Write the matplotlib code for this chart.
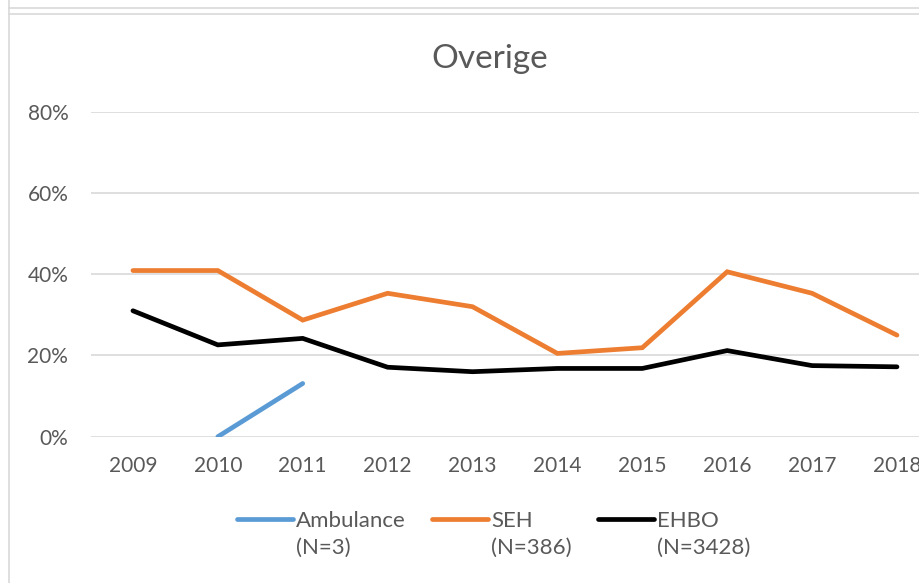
import matplotlib
matplotlib.use("Agg")
import matplotlib.pyplot as plt
from matplotlib.lines import Line2D
from matplotlib.ticker import PercentFormatter

years = [2009, 2010, 2011, 2012, 2013, 2014, 2015, 2016, 2017, 2018]
ambulance = [None, 0.0, 13.1, None, None, None, None, None, None, None]
seh = [40.9, 40.9, 28.7, 35.3, 32.0, 20.5, 21.9, 40.6, 35.3, 25.0]
ehbo = [31.0, 22.6, 24.2, 17.1, 16.0, 16.8, 16.8, 21.2, 17.5, 17.2]
labels = ["Ambulance\n(N=3)", "SEH\n(N=386)", "EHBO\n(N=3428)"]
colors = ["#5B9BD5", "#ED7D31", "#000000"]
title = "Overige"
yticks = [0, 20, 40, 60, 80]

plt.rcParams['font.family'] = ['Lato', 'DejaVu Sans']
TXT = "#595959"
GRID = "#D9D9D9"

W, H = 919, 583
fig = plt.figure(figsize=(W / 100, H / 100), dpi=100)
left_px, right_px = 90.5, 939.4
top_px, bot_px = 111.7, 436.7
ax = fig.add_axes([left_px / W, (H - bot_px) / H, (right_px - left_px) / W, (bot_px - top_px) / H])

x = list(range(len(years)))
for series, lab, col in zip([ambulance, seh, ehbo], labels, colors):
    xs = [xi for xi, v in zip(x, series) if v is not None]
    ys = [v for v in series if v is not None]
    ax.plot(xs, ys, color=col, lw=3.4, label=lab, solid_capstyle='round', solid_joinstyle='miter')

ax.set_xlim(-0.5, len(years) - 0.5)
ax.set_ylim(0, 80)
ax.set_xticks(x)
ax.set_xticklabels([str(y) for y in years])
ax.set_yticks(yticks)
ax.yaxis.set_major_formatter(PercentFormatter(decimals=0))
ax.tick_params(axis='both', length=0, labelsize=15, labelcolor=TXT)
ax.tick_params(axis='y', pad=16)
ax.tick_params(axis='x', pad=14)
ax.grid(axis='y', color=GRID, lw=1.2)
ax.set_axisbelow(True)
for s in ax.spines.values():
    s.set_visible(False)

fig.text(489.5 / W, (H - 59) / H, title, ha='center', va='center', fontsize=24, color=TXT)

leg = fig.legend(loc='upper left', bbox_to_anchor=(237 / W, (H - 511) / H), ncol=3,
                 frameon=False, fontsize=16, labelcolor=TXT, handlelength=2.5,
                 handletextpad=0.15, columnspacing=1.2, borderpad=0, borderaxespad=0)
for t in leg.get_texts():
    t.set_linespacing(1.4)
for col in leg._legend_handle_box.get_children():
    for row in col.get_children():
        row.align = 'top'

# chart-area borders
fig.add_artist(Line2D([9 / W, 9 / W], [0, 1], transform=fig.transFigure, color=GRID, lw=1.2))
fig.add_artist(Line2D([9 / W, 1], [(H - 7.5) / H] * 2, transform=fig.transFigure, color=GRID, lw=1.2))
fig.add_artist(Line2D([9 / W, 1], [(H - 13.5) / H] * 2, transform=fig.transFigure, color=GRID, lw=1.2))

fig.savefig("out.png", dpi=100)
